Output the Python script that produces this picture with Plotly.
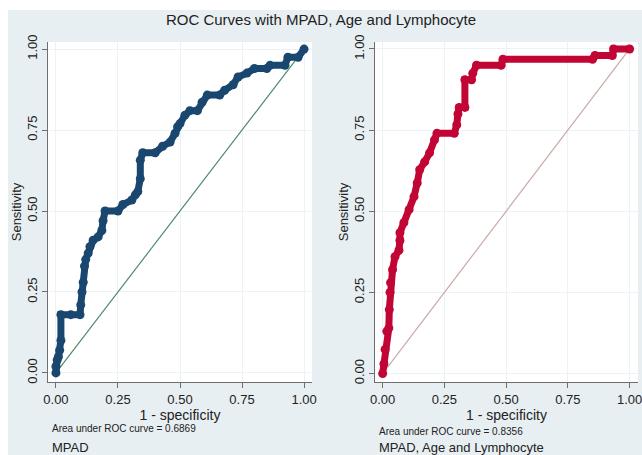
import plotly.graph_objects as go

# ---- data ----
title_text = "ROC Curves with MPAD, Age and Lymphocyte"
tick_vals = [0, 0.25, 0.5, 0.75, 1.0]
tick_text = ["0.00", "0.25", "0.50", "0.75", "1.00"]

mpad_fpr = [0, 0, 0.005, 0.01, 0.015, 0.02, 0.02, 0.06, 0.097, 0.10, 0.105, 0.11, 0.115,
            0.12, 0.13, 0.137, 0.15, 0.17, 0.185, 0.19, 0.198, 0.25, 0.27, 0.306, 0.32,
            0.33, 0.34, 0.34, 0.35, 0.40, 0.43, 0.46, 0.48, 0.49, 0.50, 0.52, 0.54, 0.57,
            0.589, 0.61, 0.66, 0.68, 0.714, 0.734, 0.77, 0.80, 0.85, 0.863, 0.923, 0.935,
            0.976, 1.0]
mpad_tpr = [0, 0.02, 0.04, 0.05, 0.07, 0.10, 0.18, 0.18, 0.18, 0.21, 0.25, 0.28, 0.33,
            0.35, 0.37, 0.39, 0.41, 0.42, 0.44, 0.47, 0.50, 0.50, 0.52, 0.534, 0.55,
            0.56, 0.60, 0.657, 0.68, 0.68, 0.70, 0.713, 0.74, 0.76, 0.77, 0.796, 0.81, 0.81,
            0.836, 0.858, 0.858, 0.873, 0.89, 0.914, 0.926, 0.94, 0.94, 0.95, 0.95, 0.975,
            0.975, 1.0]

combo_fpr = [0, 0.005, 0.01, 0.017, 0.025, 0.027, 0.03, 0.032, 0.04, 0.05, 0.066, 0.07,
             0.07, 0.086, 0.107, 0.127, 0.14, 0.15, 0.17, 0.19, 0.21, 0.22, 0.29, 0.30,
             0.305, 0.31, 0.333, 0.333, 0.36, 0.365, 0.38, 0.48, 0.487, 0.85, 0.86, 0.93,
             0.935, 1.0]
combo_tpr = [0, 0.03, 0.074, 0.13, 0.14, 0.197, 0.25, 0.28, 0.32, 0.36, 0.38, 0.41,
             0.434, 0.465, 0.505, 0.545, 0.587, 0.628, 0.652, 0.68, 0.72, 0.74, 0.74, 0.766,
             0.80, 0.82, 0.82, 0.905, 0.905, 0.925, 0.95, 0.95, 0.968, 0.968, 0.98, 0.98,
             1.0, 1.0]

ref_line = [0, 1]
auc_mpad = 0.6869
auc_combo = 0.8356
label_mpad = "MPAD"
label_combo = "MPAD, Age and Lymphocyte"

# ---- styling ----
W, H = 642, 455
BG = "#e8eff2"
BLUE = "#1a476f"
RED = "#c10534"
FONT = "Liberation Sans, Arial, sans-serif"

fig = go.Figure()

fig.add_trace(go.Scatter(x=ref_line, y=ref_line, mode="lines",
                         line=dict(color="#4f8a6e", width=1.2),
                         xaxis="x", yaxis="y", showlegend=False, hoverinfo="skip"))
fig.add_trace(go.Scatter(x=mpad_fpr, y=mpad_tpr, mode="lines+markers",
                         line=dict(color=BLUE, width=7),
                         marker=dict(color=BLUE, size=9),
                         xaxis="x", yaxis="y", showlegend=False))

fig.add_trace(go.Scatter(x=ref_line, y=ref_line, mode="lines",
                         line=dict(color="#c8aaa7", width=1.2),
                         xaxis="x2", yaxis="y2", showlegend=False, hoverinfo="skip"))
fig.add_trace(go.Scatter(x=combo_fpr, y=combo_tpr, mode="lines+markers",
                         line=dict(color=RED, width=7),
                         marker=dict(color=RED, size=9),
                         xaxis="x2", yaxis="y2", showlegend=False))

def px_x(p):
    return p / W

def px_y(p):
    return 1 - p / H

common_x = dict(
    tickmode="array", tickvals=tick_vals, ticktext=tick_text,
    showgrid=True, gridcolor="#edf2f4", gridwidth=1, zeroline=False,
    showline=True, linecolor="#6e6e6e", linewidth=1.2,
    ticks="outside", ticklen=5, tickcolor="#6e6e6e",
    tickfont=dict(family=FONT, size=13, color="#222"),
    title=dict(text="1 - specificity", font=dict(family=FONT, size=14, color="#222"), standoff=2),
    fixedrange=True, automargin=False, ticklabeloverflow="allow",
)
common_y = dict(
    tickmode="array", tickvals=tick_vals, ticktext=tick_text,
    showgrid=True, gridcolor="#edf2f4", gridwidth=1, zeroline=False,
    showline=True, linecolor="#6e6e6e", linewidth=1.2,
    ticks="outside", ticklen=5, tickcolor="#6e6e6e", tickangle=-90,
    tickfont=dict(family=FONT, size=13, color="#222"),
    title=dict(text="Sensitivity", font=dict(family=FONT, size=13, color="#222"), standoff=0),
    fixedrange=True, automargin=False, ticklabeloverflow="allow",
)

ydom = [px_y(382), px_y(42)]

fig.update_layout(
    width=W, height=H, autosize=False,
    margin=dict(l=0, r=0, t=0, b=0),
    paper_bgcolor=BG, plot_bgcolor="white",
    font=dict(family=FONT, color="#222"),
    title=dict(text=title_text, x=0.5, xanchor="center", y=px_y(20), yanchor="middle",
               font=dict(family=FONT, size=15, color="#222")),
    xaxis=dict(common_x, domain=[px_x(48), px_x(312)], range=[-0.032, 1.032], anchor="y"),
    yaxis=dict(common_y, domain=ydom, range=[-0.028, 1.022], anchor="x"),
    xaxis2=dict(common_x, domain=[px_x(375), px_x(638)], range=[-0.031, 1.034], anchor="y2"),
    yaxis2=dict(common_y, domain=ydom, range=[-0.026, 1.0215], anchor="x2"),
    showlegend=False,
)

annotations = [
    dict(text=f"Area under ROC curve = {auc_mpad:.4f}", x=px_x(50), y=px_y(428),
         font=dict(family=FONT, size=10, color="#222")),
    dict(text=label_mpad, x=px_x(50), y=px_y(447),
         font=dict(family=FONT, size=13, color="#222")),
    dict(text=f"Area under ROC curve = {auc_combo:.4f}", x=px_x(377), y=px_y(431),
         font=dict(family=FONT, size=10, color="#222")),
    dict(text=label_combo, x=px_x(377), y=px_y(447),
         font=dict(family=FONT, size=13, color="#222")),
]
for a in annotations:
    a.update(xref="paper", yref="paper", xanchor="left", yanchor="middle", showarrow=False)
fig.update_layout(annotations=annotations)

# white frame strips around the panel (outside plot areas)
fig.update_layout(shapes=[
    dict(type="rect", xref="paper", yref="paper", x0=0, x1=1, y0=px_y(10), y1=1,
         fillcolor="white", line=dict(width=0), layer="below"),
    dict(type="rect", xref="paper", yref="paper", x0=0, x1=px_x(8), y0=0, y1=1,
         fillcolor="white", line=dict(width=0), layer="below"),
])

fig.write_html(
    "out.html",
    config={"displayModeBar": False},
    post_script="document.body.style.margin='0px';document.body.style.overflow='hidden';",
)
